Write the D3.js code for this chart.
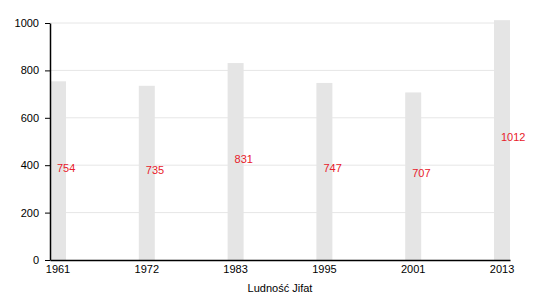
<!DOCTYPE html>
<html>
<head>
<meta charset="utf-8">
<script src="https://cdn.jsdelivr.net/npm/d3@7"></script>
<style>
  body { margin: 0; background: #fff; }
  text { font-family: "Liberation Sans", Arial, sans-serif; }
</style>
</head>
<body>
<div id="chart"></div>
<script>
// data
var years = ['1961', '1972', '1983', '1995', '2001', '2013'];
var population = [754, 735, 831, 747, 707, 1012];
var yTicks = [0, 200, 400, 600, 800, 1000];
var title = 'Ludność Jifat';

var width = 550;
var height = 300;
var margin = { top: 23, right: 40, bottom: 40, left: 50 };

var barColour = '#e5e5e5';
var gridColour = '#e6e6e6';
var labelColour = '#e8202a';

var svg = d3.select('#chart')
  .append('svg')
  .attr('width', width)
  .attr('height', height);

var x = d3.scaleBand()
  .domain(years)
  .range([margin.left, width - margin.right])
  .paddingInner(0.82)
  .paddingOuter(0);

var y = d3.scaleLinear()
  .domain([0, 1000])
  .range([height - margin.bottom, margin.top]);

// grid lines
svg.append('g')
  .selectAll('line')
  .data(yTicks.slice(1))
  .enter()
  .append('line')
  .attr('x1', margin.left)
  .attr('x2', width - margin.right)
  .attr('y1', function (d) { return y(d); })
  .attr('y2', function (d) { return y(d); })
  .attr('stroke', gridColour)
  .attr('stroke-width', 1);

// bars
svg.append('g')
  .selectAll('rect')
  .data(population)
  .enter()
  .append('rect')
  .attr('x', function (d, i) { return x(years[i]); })
  .attr('y', function (d) { return y(d); })
  .attr('width', x.bandwidth())
  .attr('height', function (d) { return y(0) - y(d); })
  .attr('fill', barColour);

// value labels
svg.append('g')
  .selectAll('text')
  .data(population)
  .enter()
  .append('text')
  .text(function (d) { return d; })
  .attr('x', function (d, i) { return x(years[i]) + x.bandwidth() / 2 - 1; })
  .attr('y', function (d) { return (y(d) + y(0)) / 2 + 1; })
  .attr('fill', labelColour)
  .attr('font-size', 11);

// y axis
var yAxis = svg.append('g')
  .attr('transform', 'translate(' + margin.left + ',0)')
  .call(d3.axisLeft(y).tickValues(yTicks).tickFormat(d3.format('d'))
    .tickSize(5).tickSizeOuter(0).tickPadding(6));
yAxis.selectAll('text').attr('font-size', 11).attr('fill', '#000').style('font-family', '"Liberation Sans", Arial, sans-serif');
yAxis.selectAll('line').attr('stroke', '#000');
yAxis.select('.domain').attr('stroke', '#000').attr('stroke-width', 1.5);

// x axis
var xAxis = svg.append('g')
  .attr('transform', 'translate(0,' + y(0) + ')')
  .call(d3.axisBottom(x).tickSize(0).tickPadding(5));
xAxis.selectAll('text').attr('font-size', 11).attr('fill', '#000').style('font-family', '"Liberation Sans", Arial, sans-serif');
xAxis.select('.domain').attr('stroke', '#000').attr('stroke-width', 1.5);

// axis title
svg.append('text')
  .text(title)
  .attr('x', (margin.left + width - margin.right) / 2)
  .attr('y', 292)
  .attr('text-anchor', 'middle')
  .attr('font-size', 11)
  .attr('fill', '#000');
</script>
</body>
</html>
